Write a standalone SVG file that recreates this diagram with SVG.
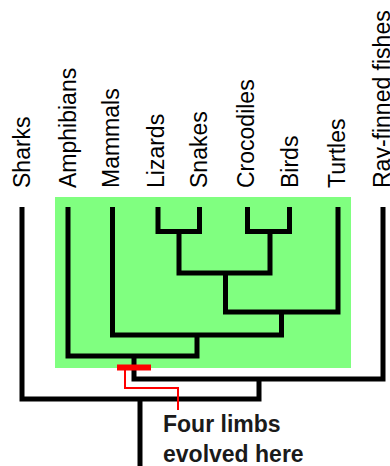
<svg xmlns="http://www.w3.org/2000/svg" width="390" height="466" viewBox="0 0 390 466">
  <style>
    .taxon { font-family: "Liberation Sans", Arial, sans-serif; font-size: 23px; fill: #000; }
    .note { font-family: "Liberation Sans", Arial, sans-serif; font-size: 23px; font-weight: bold; fill: #1a1a1a; }
    .branch { fill: none; stroke: #000; stroke-width: 5; stroke-linejoin: miter; stroke-linecap: butt; }
    .marker-line { fill: none; stroke: #ff0000; stroke-width: 2; }
  </style>
  <rect width="390" height="466" fill="#ffffff"/>

  <!-- tetrapod clade highlight -->
  <rect id="tetrapod-box" x="55" y="197" width="296" height="171" fill="#80ff80"/>

  <!-- taxon labels -->
  <g id="sharks"><text class="taxon" transform="translate(30,188) rotate(-90)">Sharks</text></g>
  <g id="amphibians"><text class="taxon" transform="translate(76,188) rotate(-90)">Amphibians</text></g>
  <g id="mammals"><text class="taxon" transform="translate(119,188) rotate(-90)">Mammals</text></g>
  <g id="lizards"><text class="taxon" transform="translate(164,188) rotate(-90)">Lizards</text></g>
  <g id="snakes"><text class="taxon" transform="translate(207,188) rotate(-90)">Snakes</text></g>
  <g id="crocodiles"><text class="taxon" transform="translate(254,188) rotate(-90)">Crocodiles</text></g>
  <g id="birds"><text class="taxon" transform="translate(298,188) rotate(-90)">Birds</text></g>
  <g id="turtles"><text class="taxon" transform="translate(345,188) rotate(-90)">Turtles</text></g>
  <g id="ray-finned-fishes"><text class="taxon" transform="translate(390,188) rotate(-90)">Ray-finned fishes</text></g>

  <!-- tree branches -->
  <g id="connectors" class="branch">
    <path d="M158,207 V231.5 H199.5 V207"/>
    <path d="M247.5,207 V231.5 H289.5 V207"/>
    <path d="M179,231.5 V273 H270 V231.5"/>
    <path d="M338,207 V312 H225.5 V273"/>
    <path d="M281.5,312 V335 H112.5 V207"/>
    <path d="M68,207 V356 H197 V335"/>
    <path d="M383,207 V379 H134 V356"/>
    <path d="M22,207 V399 H259 V379"/>
    <path d="M140,399 V466"/>
  </g>

  <!-- character marker: origin of limbs -->
  <g id="limbs-marker">
    <rect x="117" y="364.5" width="34" height="6" fill="#ff0000"/>
    <path class="marker-line" d="M125,370 V388 H178 V410"/>
    <text class="note" x="163" y="432">Four limbs</text>
    <text class="note" x="163" y="462">evolved here</text>
  </g>
</svg>
